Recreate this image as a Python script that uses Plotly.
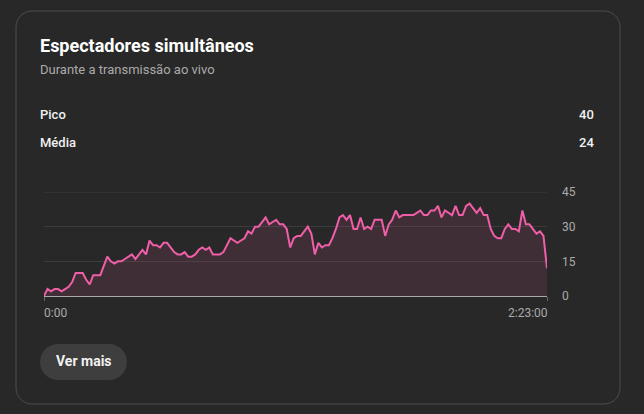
import plotly.graph_objects as go

# ---- data ----
title = "Espectadores simultâneos"
subtitle = "Durante a transmissão ao vivo"
stat_labels = ["Pico", "Média"]
stat_values = ["40", "24"]
x_tick_labels = ["0:00", "2:23:00"]
y_ticks = [0, 15, 30, 45]
minutes = list(range(144))
viewers = [0, 3, 2, 3, 3, 2, 3, 4, 6, 10, 10, 10, 7, 5, 9, 9, 9, 13, 17, 15,
           14, 15, 15, 16, 17, 18, 16, 18, 20, 18, 24, 22, 22, 21, 23, 23, 21, 19, 18, 18,
           19, 17, 17, 18, 20, 21, 20, 21, 18, 18, 18, 19, 22, 25, 24, 23, 24, 25, 28, 27,
           30, 30, 32, 34, 31, 32, 33, 31, 31, 29, 21, 25, 26, 26, 28, 30, 27, 18, 23, 21,
           22, 22, 25, 29, 34, 35, 33, 35, 29, 29, 34, 29, 30, 29, 33, 33, 33, 26, 31, 33,
           37, 34, 35, 35, 35, 35, 36, 37, 35, 35, 37, 37, 39, 34, 37, 36, 35, 39, 35, 35,
           39, 40, 38, 36, 38, 35, 35, 29, 26, 25, 25, 29, 31, 29, 29, 28, 37, 31, 31, 29,
           27, 28, 26, 12]

W, H = 644, 414
PL, PR, PT, PB = 44, 547, 192, 296   # plot area in pixels
BG = "#282828"
GRID = "#3c3c3c"
FONT = "Roboto, Arial, sans-serif"


def px(x):
    return (x - PL) / (PR - PL)


def py(y):
    return (PB - y) / (PB - PT)


def rounded_path(hw, hh, r):
    k = 0.5523 * r
    return (f"M {-hw + r},{-hh} L {hw - r},{-hh} "
            f"C {hw - r + k},{-hh} {hw},{-hh + r - k} {hw},{-hh + r} "
            f"L {hw},{hh - r} "
            f"C {hw},{hh - r + k} {hw - r + k},{hh} {hw - r},{hh} "
            f"L {-hw + r},{hh} "
            f"C {-hw + r - k},{hh} {-hw},{hh - r + k} {-hw},{hh - r} "
            f"L {-hw},{-hh + r} "
            f"C {-hw},{-hh + r - k} {-hw + r - k},{-hh} {-hw + r},{-hh} Z")


fig = go.Figure()
fig.add_trace(go.Scatter(
    x=minutes, y=viewers, mode="lines",
    line=dict(color="#f05ea8", width=2),
    fill="tozeroy", fillcolor="rgba(239,93,168,0.12)",
    hoverinfo="skip",
))

shapes = [
    # card border
    dict(type="path", xref="paper", yref="paper", xsizemode="pixel", ysizemode="pixel",
         xanchor=px(318), yanchor=py(207.5), path=rounded_path(302, 196.5, 16),
         line=dict(color="#4d4d4d", width=1), fillcolor="rgba(0,0,0,0)", layer="below"),
    # button
    dict(type="path", xref="paper", yref="paper", xsizemode="pixel", ysizemode="pixel",
         xanchor=px(83.5), yanchor=py(362), path=rounded_path(43.5, 18, 18),
         line=dict(width=0), fillcolor="#3e3e3e", layer="below"),
    # top gridline (at the range edge)
    dict(type="line", xref="paper", yref="y", x0=0, x1=1, y0=y_ticks[-1], y1=y_ticks[-1],
         line=dict(color=GRID, width=1), layer="below"),
]

annotations = [
    dict(text=f"<b>{title}</b>", x=px(38), y=py(45), xref="paper", yref="paper",
         xanchor="left", yanchor="middle", showarrow=False,
         font=dict(family=FONT, size=18, color="#ffffff")),
    dict(text=subtitle, x=px(38), y=py(69), xref="paper", yref="paper",
         xanchor="left", yanchor="middle", showarrow=False,
         font=dict(family=FONT, size=13, color="#aaaaaa")),
    dict(text="<b>Ver mais</b>", x=px(83.5), y=py(361), xref="paper", yref="paper",
         xanchor="center", yanchor="middle", showarrow=False,
         font=dict(family=FONT, size=14, color="#f1f1f1")),
]
for i, (lab, val) in enumerate(zip(stat_labels, stat_values)):
    yy = py(114 + 28 * i)
    annotations.append(dict(text=lab, x=px(38), y=yy, xref="paper", yref="paper",
                            xanchor="left", yanchor="middle", showarrow=False,
                            font=dict(family=FONT, size=13, color="#f1f1f1", weight=500)))
    annotations.append(dict(text=val, x=px(596), y=yy, xref="paper", yref="paper",
                            xanchor="right", yanchor="middle", showarrow=False,
                            font=dict(family=FONT, size=13, color="#f1f1f1", weight=500)))
# x-axis end labels
annotations.append(dict(text=x_tick_labels[0], x=minutes[0], y=py(313), xref="x", yref="paper",
                        xanchor="left", yanchor="middle", showarrow=False, xshift=-2,
                        font=dict(family=FONT, size=12, color="#aaaaaa")))
annotations.append(dict(text=x_tick_labels[1], x=minutes[-1], y=py(313), xref="x", yref="paper",
                        xanchor="right", yanchor="middle", showarrow=False, xshift=3,
                        font=dict(family=FONT, size=12, color="#aaaaaa")))

fig.update_layout(
    width=W, height=H,
    margin=dict(l=PL, r=W - PR, t=PT, b=H - PB, pad=0),
    paper_bgcolor=BG, plot_bgcolor=BG,
    showlegend=False,
    shapes=shapes,
    annotations=annotations,
    xaxis=dict(range=[minutes[0], minutes[-1]], showgrid=False, zeroline=False,
               showline=True, linecolor="#aaaaaa", linewidth=1,
               tickvals=[minutes[0], minutes[-1]], showticklabels=False,
               ticks="outside", ticklen=4, tickcolor="#666666", fixedrange=True),
    yaxis=dict(range=[0, 45], side="right", tickvals=y_ticks,
               gridcolor=GRID, gridwidth=1, zeroline=False, showline=False,
               ticks="", ticklabelstandoff=14,
               tickfont=dict(family=FONT, size=12, color="#aaaaaa"), fixedrange=True),
    hovermode=False,
)

fig.write_html("out.html", config=dict(displayModeBar=False),
               post_script="document.body.style.margin='0';document.body.style.background='" + BG + "';")
